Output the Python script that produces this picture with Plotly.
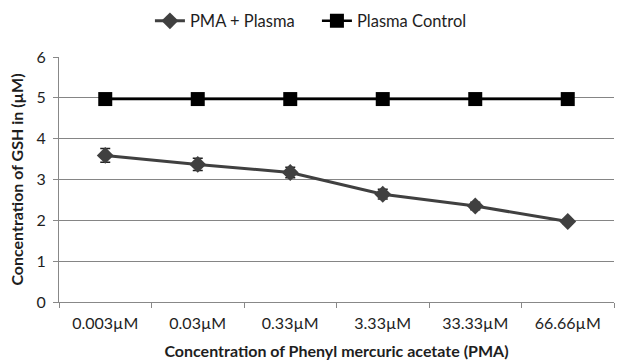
import plotly.graph_objects as go

categories = ["0.003µM", "0.03µM", "0.33µM", "3.33µM", "33.33µM", "66.66µM"]
pma_plasma = [3.59, 3.37, 3.17, 2.64, 2.35, 1.97]
pma_err = [0.17, 0.15, 0.13, 0.12, 0.09, 0.06]
plasma_control = [4.97, 4.97, 4.97, 4.97, 4.97, 4.97]

FONT = "Lato"
TXT = "#1e1e1e"

fig = go.Figure()
fig.add_trace(go.Scatter(
    x=categories, y=pma_plasma, name="PMA + Plasma", mode="lines+markers",
    line=dict(color="#404040", width=3),
    marker=dict(symbol="diamond", size=13, color="#404040"),
    error_y=dict(type="data", array=pma_err, visible=True, color="#222222", thickness=1.5, width=5),
))
fig.add_trace(go.Scatter(
    x=categories, y=plasma_control, name="Plasma Control", mode="lines+markers",
    line=dict(color="#000000", width=2.5),
    marker=dict(symbol="square", size=14, color="#000000"),
))

fig.update_layout(
    width=619, height=360,
    margin=dict(l=59, r=5, t=57, b=58, autoexpand=False),
    paper_bgcolor="white", plot_bgcolor="white",
    font=dict(family=FONT, size=16, color=TXT),
    legend=dict(orientation="h", xref="container", x=0.512, xanchor="center",
                yref="container", y=0.99, yanchor="top",
                font=dict(family=FONT, size=16.5, color=TXT),
                itemwidth=30, tracegroupgap=0,
                entrywidth=122, entrywidthmode="pixels"),
    showlegend=True,
)
fig.update_xaxes(
    type="category", showgrid=False, showline=True, linecolor="#888888", linewidth=1,
    ticks="outside", ticklen=5, tickcolor="#888888", tickson="boundaries",
    ticklabelstandoff=7,
    tickfont=dict(family=FONT, size=16, color=TXT),
    title=dict(text="<b>Concentration of Phenyl mercuric acetate (PMA)</b>",
               font=dict(family=FONT, size=16, color=TXT), standoff=16),
    range=[-0.5, 5.5], automargin=False,
)
fig.update_yaxes(
    range=[0, 6], dtick=1, showgrid=True, gridcolor="#858585", gridwidth=1,
    showline=True, linecolor="#888888", linewidth=1,
    ticks="outside", ticklen=5, tickcolor="#888888",
    ticklabelstandoff=4,
    tickfont=dict(family=FONT, size=16, color=TXT),
    title=dict(text="<b>Concentration of GSH in (µM)</b>",
               font=dict(family=FONT, size=16, color=TXT), standoff=8),
    zeroline=False, automargin=False,
)

fig.write_html("out.html")
